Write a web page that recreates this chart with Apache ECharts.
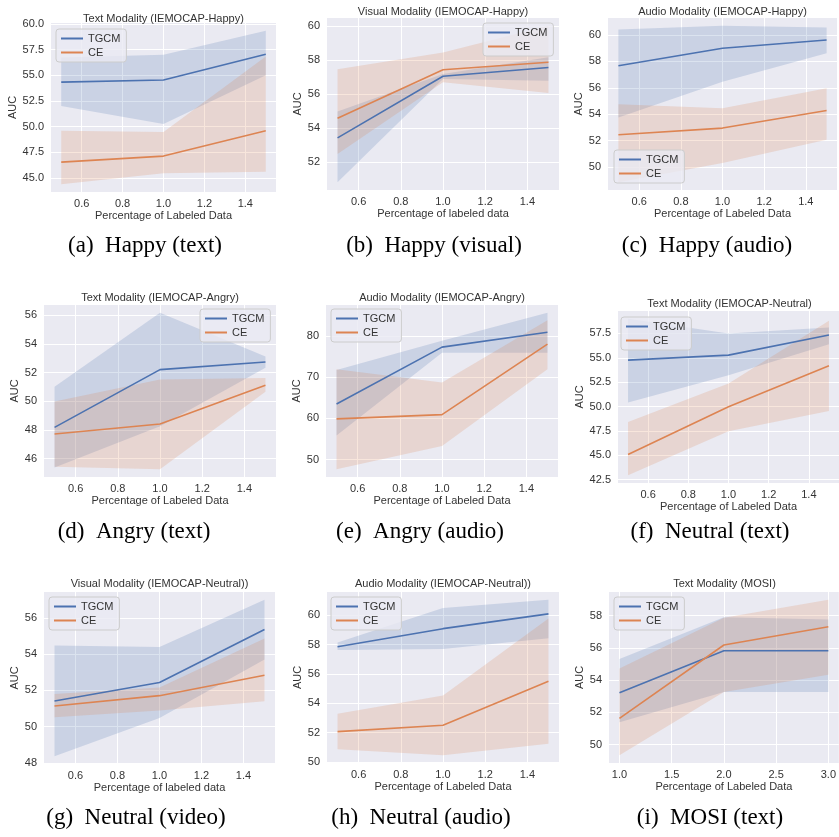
<!DOCTYPE html>
<html lang="en">
<head>
  <meta charset="UTF-8">
  <title>TGCM vs CE - AUC vs labeled data</title>
  <style>
    html, body { margin: 0; padding: 0; background: #fff; }
    #chart { width: 839px; height: 837px; }
  </style>
</head>
<body>
  <div id="chart"></div>

  <script src="https://cdn.jsdelivr.net/npm/echarts@6/dist/echarts.min.js"></script>
  <script>
    // x positions
    const xIemocap = [0.5, 1.0, 1.5];
    const xMosi = [1, 2, 3];

    // (a) Happy (text)
    const aTgcm = [54.34, 54.54, 57.06], aTgcmLo = [52.0, 50.26, 55.0], aTgcmHi = [56.74, 57.0, 59.35];
    const aCe = [46.54, 47.13, 49.6], aCeLo = [44.38, 45.46, 45.6], aCeHi = [49.6, 49.48, 56.83];
    // (b) Happy (visual)
    const bTgcm = [53.43, 57.04, 57.56], bTgcmLo = [50.83, 56.88, 56.78], bTgcmHi = [54.97, 57.17, 58.15];
    const bCe = [54.58, 57.42, 57.86], bCeLo = [52.49, 56.69, 56.06], bCeHi = [57.46, 58.44, 60.0];
    // (c) Happy (audio)
    const cTgcm = [57.68, 59.0, 59.62], cTgcmLo = [53.75, 56.47, 58.62], cTgcmHi = [60.43, 60.7, 60.58];
    const cCe = [52.44, 52.95, 54.28], cCeLo = [48.85, 50.3, 52.06], cCeHi = [54.76, 54.46, 55.97];
    // (d) Angry (text)
    const dTgcm = [48.18, 52.21, 52.74], dTgcmLo = [45.38, 48.25, 52.34], dTgcmHi = [51.01, 56.18, 53.13];
    const dCe = [47.72, 48.41, 51.13], dCeLo = [45.43, 45.26, 50.67], dCeHi = [49.98, 51.52, 51.63];
    // (e) Angry (audio)
    const eTgcm = [63.48, 77.27, 80.88], eTgcmLo = [55.86, 75.9, 75.9], eTgcmHi = [71.74, 78.8, 85.6];
    const eCe = [59.87, 60.91, 78.0], eCeLo = [47.68, 53.3, 71.9], eCeHi = [71.9, 68.7, 83.77];
    // (f) Neutral (text)
    const fTgcm = [54.76, 55.27, 57.33], fTgcmLo = [50.41, 53.22, 56.4], fTgcmHi = [59.0, 57.5, 58.12];
    const fCe = [45.07, 49.97, 54.18], fCeLo = [42.95, 47.47, 49.55], fCeHi = [48.42, 52.36, 58.8];
    // (g) Neutral (video)
    const gTgcm = [51.42, 52.44, 55.36], gTgcmLo = [48.37, 50.48, 53.7], gTgcmHi = [54.48, 54.39, 57.0];
    const gCe = [51.14, 51.71, 52.84], gCeLo = [50.52, 50.89, 51.4], gCeHi = [51.8, 52.16, 54.87];
    // (h) Neutral (audio)
    const hTgcm = [57.85, 59.08, 60.09], hTgcmLo = [57.62, 57.69, 58.43], hTgcmHi = [58.14, 60.49, 61.05];
    const hCe = [52.06, 52.49, 55.49], hCeLo = [50.85, 50.45, 51.23], hCeHi = [53.27, 54.53, 59.78];
    // (i) MOSI (text)
    const iTgcm = [53.22, 55.82, 55.82], iTgcmLo = [51.39, 53.27, 53.27], iTgcmHi = [55.31, 57.9, 57.76];
    const iCe = [51.63, 56.18, 57.31], iCeLo = [49.35, 53.27, 54.33], iCeHi = [54.73, 57.86, 58.98];

    // tick labels
    const xTicksIemocap = [0.6, 0.8, 1.0, 1.2, 1.4];
    const xTicksMosi = [1.0, 1.5, 2.0, 2.5, 3.0];
    const yTicksA = [45, 47.5, 50, 52.5, 55, 57.5, 60];
    const yTicksB = [52, 54, 56, 58, 60];
    const yTicksC = [50, 52, 54, 56, 58, 60];
    const yTicksD = [46, 48, 50, 52, 54, 56];
    const yTicksE = [50, 60, 70, 80];
    const yTicksF = [42.5, 45, 47.5, 50, 52.5, 55, 57.5];
    const yTicksG = [48, 50, 52, 54, 56];
    const yTicksH = [50, 52, 54, 56, 58, 60];
    const yTicksI = [50, 52, 54, 56, 58];

    const BLUE = '#4c72b0', ORANGE = '#dd8452';
    const SANS = 'Liberation Sans, Arial, sans-serif';
    const SERIF = 'Liberation Serif, Times New Roman, serif';
    const TXT = '#333';

    const panels = [
      { x: xIemocap, xt: xTicksIemocap, yt: yTicksA, tg: [aTgcm, aTgcmLo, aTgcmHi], ce: [aCe, aCeLo, aCeHi],
        title: 'Text Modality (IEMOCAP-Happy)', xName: 'Percentage of Labeled Data', caption: '(a)  Happy (text)',
        grid: { left: 51, top: 23, width: 225, height: 169 }, titleTop: 13, legend: { left: 56, top: 29 }, capX: 145, capTop: 234, yGap: 28 },
      { x: xIemocap, xt: xTicksIemocap, yt: yTicksB, tg: [bTgcm, bTgcmLo, bTgcmHi], ce: [bCe, bCeLo, bCeHi],
        title: 'Visual Modality (IEMOCAP-Happy)', xName: 'Percentage of labeled data', caption: '(b)  Happy (visual)',
        grid: { left: 327, top: 18, width: 232, height: 172 }, titleTop: 6, legend: { left: 483, top: 23 }, capX: 434, capTop: 234, yGap: 20 },
      { x: xIemocap, xt: xTicksIemocap, yt: yTicksC, tg: [cTgcm, cTgcmLo, cTgcmHi], ce: [cCe, cCeLo, cCeHi],
        title: 'Audio Modality (IEMOCAP-Happy)', xName: 'Percentage of Labeled Data', caption: '(c)  Happy (audio)',
        grid: { left: 608, top: 18, width: 229, height: 172 }, titleTop: 6, legend: { left: 614, top: 150 }, capX: 707, capTop: 234, yGap: 19 },
      { x: xIemocap, xt: xTicksIemocap, yt: yTicksD, tg: [dTgcm, dTgcmLo, dTgcmHi], ce: [dCe, dCeLo, dCeHi],
        title: 'Text Modality (IEMOCAP-Angry)', xName: 'Percentage of Labeled Data', caption: '(d)  Angry (text)',
        grid: { left: 44, top: 305, width: 232, height: 172 }, titleTop: 292, legend: { left: 200, top: 309 }, capX: 134, capTop: 520, yGap: 20 },
      { x: xIemocap, xt: xTicksIemocap, yt: yTicksE, tg: [eTgcm, eTgcmLo, eTgcmHi], ce: [eCe, eCeLo, eCeHi],
        title: 'Audio Modality (IEMOCAP-Angry)', xName: 'Percentage of Labeled Data', caption: '(e)  Angry (audio)',
        grid: { left: 326, top: 305, width: 232, height: 172 }, titleTop: 292, legend: { left: 331, top: 309 }, capX: 420, capTop: 520, yGap: 19 },
      { x: xIemocap, xt: xTicksIemocap, yt: yTicksF, tg: [fTgcm, fTgcmLo, fTgcmHi], ce: [fCe, fCeLo, fCeHi],
        title: 'Text Modality (IEMOCAP-Neutral)', xName: 'Percentage of Labeled Data', caption: '(f)  Neutral (text)',
        grid: { left: 618, top: 311, width: 223, height: 172 }, titleTop: 298, legend: { left: 621, top: 317 }, capX: 710, capTop: 520, yGap: 28 },
      { x: xIemocap, xt: xTicksIemocap, yt: yTicksG, tg: [gTgcm, gTgcmLo, gTgcmHi], ce: [gCe, gCeLo, gCeHi],
        title: 'Visual Modality (IEMOCAP-Neutral))', xName: 'Percentage of labeled data', caption: '(g)  Neutral (video)',
        grid: { left: 44, top: 592, width: 231, height: 172 }, titleTop: 578, legend: { left: 49, top: 597 }, capX: 136, capTop: 806, yGap: 21 },
      { x: xIemocap, xt: xTicksIemocap, yt: yTicksH, tg: [hTgcm, hTgcmLo, hTgcmHi], ce: [hCe, hCeLo, hCeHi],
        title: 'Audio Modality (IEMOCAP-Neutral))', xName: 'Percentage of Labeled Data', caption: '(h)  Neutral (audio)',
        grid: { left: 327, top: 592, width: 232, height: 171 }, titleTop: 578, legend: { left: 331, top: 597 }, capX: 421, capTop: 806, yGap: 21 },
      { x: xMosi, xt: xTicksMosi, yt: yTicksI, tg: [iTgcm, iTgcmLo, iTgcmHi], ce: [iCe, iCeLo, iCeHi],
        title: 'Text Modality (MOSI)', xName: 'Percentage of Labeled Data', caption: '(i)  MOSI (text)',
        grid: { left: 609, top: 592, width: 231, height: 171 }, titleTop: 578, legend: { left: 614, top: 597 }, capX: 710, capTop: 806, yGap: 21 }
    ];

    // matplotlib-like 5% margins
    function padded(vals) {
      const lo = Math.min(...vals), hi = Math.max(...vals), r = hi - lo;
      return [lo - 0.05 * r, hi + 0.05 * r];
    }
    const pairs = (xs, ys) => xs.map((x, k) => [x, ys[k]]);

    // confidence band as one polygon, points mapped through the axes
    function bandSeries(i, xs, lo, hi, fill) {
      return {
        type: 'custom', xAxisIndex: i, yAxisIndex: i, silent: true, clip: true,
        data: xs.map((x, k) => [x, lo[k], hi[k]]),
        encode: { x: 0, y: [1, 2] },
        renderItem: (params, api) => {
          if (params.dataIndex !== 0) return null;
          const top = xs.map((x, k) => api.coord([x, hi[k]]));
          const bot = xs.map((x, k) => api.coord([x, lo[k]])).reverse();
          return { type: 'polygon', shape: { points: top.concat(bot) }, style: { fill: fill } };
        }
      };
    }

    const grids = [], xAxes = [], yAxes = [], series = [], titles = [], legends = [];

    panels.forEach((p, i) => {
      grids.push(Object.assign({ show: true, backgroundColor: '#eaeaf2', borderWidth: 0, containLabel: false }, p.grid));

      const xr = padded(p.x);
      const yr = padded([].concat(...p.tg, ...p.ce));
      const yDec = p.yt.some(v => v % 1 !== 0) ? 1 : 0;

      xAxes.push({
        type: 'value', gridIndex: i, min: xr[0], max: xr[1],
        name: p.xName, nameLocation: 'middle', nameGap: 18,
        nameTextStyle: { fontFamily: SANS, fontSize: 11, color: TXT },
        axisLine: { show: false },
        axisTick: { show: false, customValues: p.xt },
        axisLabel: { customValues: p.xt, formatter: v => v.toFixed(1), fontFamily: SANS, fontSize: 11, color: TXT, margin: 6 },
        splitLine: { show: true, lineStyle: { color: '#ffffff', width: 1 } }
      });
      yAxes.push({
        type: 'value', gridIndex: i, min: yr[0], max: yr[1],
        name: 'AUC', nameLocation: 'middle', nameGap: p.yGap, nameRotate: 90,
        nameTextStyle: { fontFamily: SANS, fontSize: 11, color: TXT },
        axisLine: { show: false },
        axisTick: { show: false, customValues: p.yt },
        axisLabel: { customValues: p.yt, formatter: v => v.toFixed(yDec), fontFamily: SANS, fontSize: 11, color: TXT, margin: 7 },
        splitLine: { show: true, lineStyle: { color: '#ffffff', width: 1 } }
      });

      // same drawing order as seaborn: line, then its band
      [['TGCM', p.tg, BLUE, 'rgba(76,114,176,0.2)'], ['CE', p.ce, ORANGE, 'rgba(221,132,82,0.2)']].forEach(([name, arr, col, fill]) => {
        const [mid, lo, hi] = arr;
        series.push({
          name: name, type: 'line', xAxisIndex: i, yAxisIndex: i,
          data: pairs(p.x, mid), symbol: 'none', showSymbol: false,
          lineStyle: { color: col, width: 1.6 }, itemStyle: { color: col }
        });
        series.push(bandSeries(i, p.x, lo, hi, fill));
      });

      titles.push({
        text: p.title, left: p.grid.left + p.grid.width / 2, top: p.titleTop, textAlign: 'center', padding: 0,
        textStyle: { fontFamily: SANS, fontSize: 11, fontWeight: 'normal', color: TXT }
      });
      titles.push({
        text: p.caption, left: p.capX, top: p.capTop, textAlign: 'center', padding: 0,
        textStyle: { fontFamily: SERIF, fontSize: 23, fontWeight: 'normal', color: '#000' }
      });

      legends.push({
        left: p.legend.left, top: p.legend.top, orient: 'vertical',
        data: [{ name: 'TGCM', icon: 'rect' }, { name: 'CE', icon: 'rect' }],
        selectedMode: false, itemWidth: 22, itemHeight: 2, itemGap: 3,
        padding: [4, 6, 4, 5], backgroundColor: 'rgba(234,234,242,0.8)',
        borderColor: '#cccccc', borderWidth: 1, borderRadius: 3,
        textStyle: { fontFamily: SANS, fontSize: 11, color: TXT }
      });
    });

    const chart = echarts.init(document.getElementById('chart'));
    chart.setOption({
      animation: false,
      backgroundColor: '#ffffff',
      title: titles,
      legend: legends,
      grid: grids,
      xAxis: xAxes,
      yAxis: yAxes,
      series: series
    });
  </script>
</body>
</html>
